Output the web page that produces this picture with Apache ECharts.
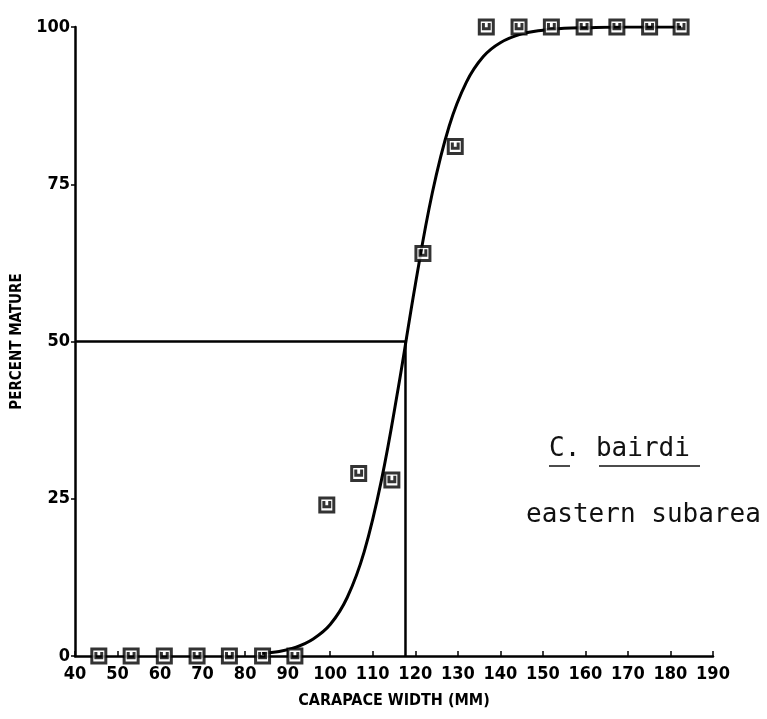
<!DOCTYPE html>
<html>
<head>
<meta charset="utf-8">
<script src="https://cdn.jsdelivr.net/npm/echarts@6/dist/echarts.min.js"></script>
<style>
  html, body { margin: 0; padding: 0; background: #fff; }
  #chart { width: 767px; height: 719px; }
</style>
</head>
<body>
<div id="chart"></div>
<script>
// Observed maturity by carapace width class (mm -> percent mature)
const widthClasses = [45.6, 53.2, 61.0, 68.7, 76.3, 84.1, 91.7, 99.2, 106.7, 114.5, 121.8, 129.4, 136.7, 144.4, 152.0, 159.7, 167.4, 175.1, 182.5];
const percentMature = [0, 0, 0, 0, 0, 0, 0, 24, 29, 28, 64, 81, 100, 100, 100, 100, 100, 100, 100];

// Fitted maturity curve
const curveWidth = [84, 88, 92, 96, 100, 104, 108, 112, 116, 120, 124, 128, 132, 136, 140, 145, 150, 155, 160, 170, 182.5];
const curvePercent = [0.4, 0.7, 1.4, 2.7, 5.0, 9.3, 16.6, 27.8, 42.6, 59.0, 73.6, 84.3, 91.2, 95.3, 97.5, 98.9, 99.5, 99.8, 99.9, 100, 100];

// Width at 50% maturity, drawn as a drop line
const midWidth = [40, 117.7, 117.7];
const midPercent = [50, 50, 0];

const xTicks = [40, 50, 60, 70, 80, 90, 100, 110, 120, 130, 140, 150, 160, 170, 180, 190];
const yTicks = [0, 25, 50, 75, 100];

const plotFont = '"Liberation Sans Narrow", "DejaVu Sans Condensed", sans-serif';
const typeFont = '"DejaVu Sans Mono", monospace';

const pairs = (xs, ys) => xs.map((x, i) => [x, ys[i]]);

const chart = echarts.init(document.getElementById('chart'), null, { renderer: 'canvas' });

chart.setOption({
  backgroundColor: '#ffffff',
  animation: false,
  grid: { left: 75, right: 54, top: 27, bottom: 63, containLabel: false },
  xAxis: {
    type: 'value',
    min: xTicks[0],
    max: xTicks[xTicks.length - 1],
    interval: 10,
    name: 'CARAPACE WIDTH (MM)',
    nameLocation: 'middle',
    nameGap: 37,
    nameTextStyle: { fontFamily: plotFont, fontWeight: 'bold', fontSize: 16, color: '#000' },
    axisLine: { lineStyle: { color: '#000', width: 2.5 } },
    axisTick: { inside: true, length: 5, lineStyle: { color: '#000', width: 1.5 } },
    axisLabel: { fontFamily: plotFont, fontWeight: 'bold', fontSize: 18, color: '#000', margin: 9 },
    splitLine: { show: false }
  },
  yAxis: {
    type: 'value',
    min: yTicks[0],
    max: yTicks[yTicks.length - 1],
    interval: 25,
    name: 'PERCENT MATURE',
    nameLocation: 'middle',
    nameGap: 50,
    nameRotate: 90,
    nameTextStyle: { fontFamily: plotFont, fontWeight: 'bold', fontSize: 15, color: '#000' },
    axisLine: { show: true, lineStyle: { color: '#000', width: 2.5 } },
    axisTick: { show: true, inside: false, length: 4, lineStyle: { color: '#000', width: 1.5 } },
    axisLabel: { fontFamily: plotFont, fontWeight: 'bold', fontSize: 18, color: '#000', margin: 5 },
    splitLine: { show: false }
  },
  series: [
    {
      type: 'line',
      data: pairs(midWidth, midPercent),
      symbol: 'none',
      lineStyle: { color: '#000', width: 2.5 },
      z: 2
    },
    {
      type: 'line',
      data: pairs(curveWidth, curvePercent),
      symbol: 'none',
      smooth: 0.4,
      lineStyle: { color: '#000', width: 3 },
      z: 3
    },
    {
      type: 'scatter',
      data: pairs(widthClasses, percentMature),
      symbol: 'path://M0 0H12V12H0Z M3.5 2.5V7.5H8.5V2.5',
      symbolSize: 14,
      itemStyle: { color: '#fff', borderColor: '#000', borderWidth: 3 },
      z: 4
    }
  ],
  graphic: [
    {
      type: 'text',
      left: 549, top: 436,
      style: { text: 'C. bairdi', font: '26px ' + typeFont, fill: '#111' }
    },
    {
      type: 'line',
      shape: { x1: 549, y1: 466, x2: 570, y2: 466 },
      style: { stroke: '#111', lineWidth: 1.5 }
    },
    {
      type: 'line',
      shape: { x1: 599, y1: 466, x2: 700, y2: 466 },
      style: { stroke: '#111', lineWidth: 1.5 }
    },
    {
      type: 'text',
      left: 526, top: 502,
      style: { text: 'eastern subarea', font: '26px ' + typeFont, fill: '#111' }
    }
  ]
});
</script>
</body>
</html>
